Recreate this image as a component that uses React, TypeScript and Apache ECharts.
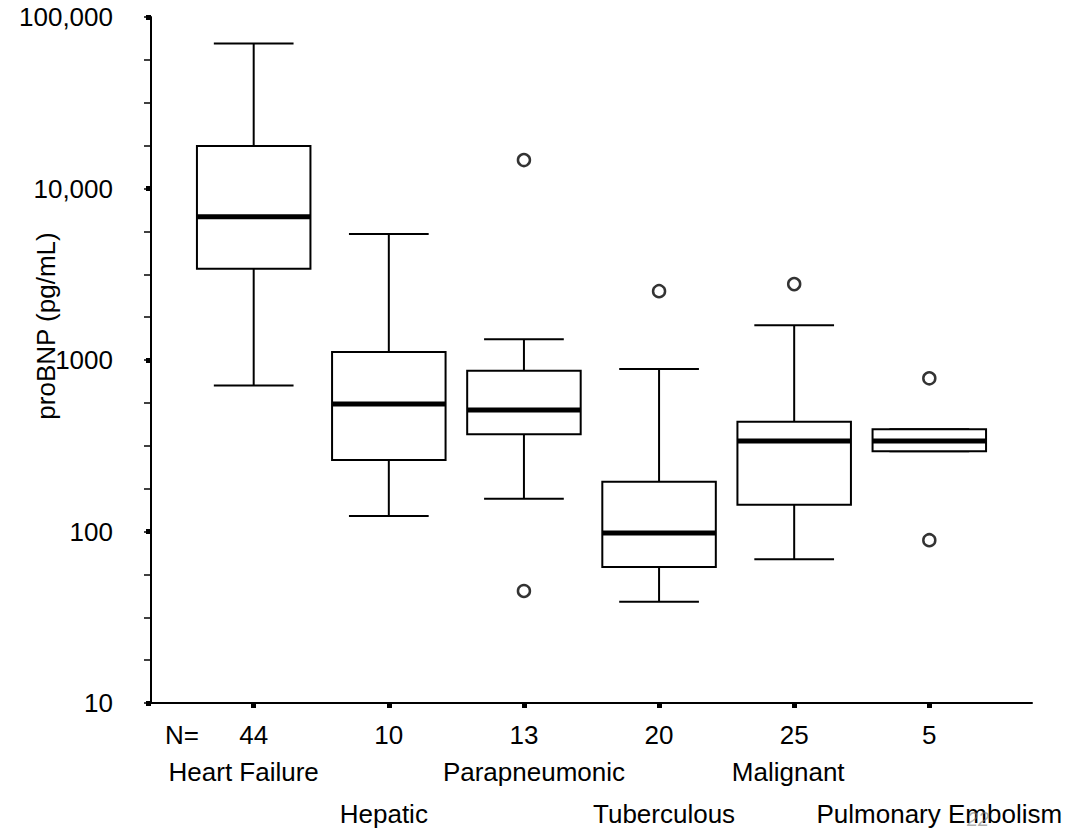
import React, { useEffect, useRef } from "react";
import * as echarts from "echarts";

// ---- Data ----
const categories = ["Heart Failure", "Hepatic", "Parapneumonic", "Tuberculous", "Malignant", "Pulmonary Embolism"];
const nValues = [44, 10, 13, 20, 25, 5];
const whiskerLow = [710, 123, 155, 39, 69, 294];
const q1 = [3400, 261, 369, 62, 143, 294];
const median = [6850, 553, 511, 98, 337, 337];
const q3 = [17700, 1115, 867, 195, 437, 394];
const whiskerHigh = [70000, 5430, 1321, 887, 1593, 394];
// outliers: [category index, value]
const outliers: [number, number][] = [
  [2, 14650],
  [2, 45],
  [3, 2520],
  [4, 2770],
  [5, 782],
  [5, 89],
];
const yTickLabels: Record<number, string> = {
  10: "10",
  100: "100",
  1000: "1000",
  10000: "10,000",
  100000: "100,000",
};
// horizontal nudge of each category name relative to its tick (px)
const nameShift = [-10, -5, 10, 5, -6, 10];

const FONT = "'Liberation Sans', Arial, Helvetica, sans-serif";
const FS = 26;

export default function App() {
  const ref = useRef<HTMLDivElement>(null);
  useEffect(() => {
    document.body.style.margin = "0";
    if (!ref.current) return;
    const chart = echarts.init(ref.current, undefined, { renderer: "svg" });

    const boxData = categories.map((_, i) => [
      i + 1,
      whiskerLow[i],
      q1[i],
      median[i],
      q3[i],
      whiskerHigh[i],
    ]);
    const outlierData = outliers.map(([i, v]) => [i + 1, v]);
    const xs = categories.map((_, i) => i + 1);
    const xsEven = xs.filter((_, i) => i % 2 === 0);
    const xsOdd = xs.filter((_, i) => i % 2 === 1);

    const BOX_HALF = 0.42;
    const CAP_HALF = 0.295;

    const rich: Record<string, any> = {
      n: { fontSize: FS, lineHeight: 36, fontFamily: FONT, color: "#000" },
      e: { fontSize: FS, lineHeight: 42, fontFamily: FONT, color: "#000" },
    };
    nameShift.forEach((s, i) => {
      rich["c" + i] = {
        fontSize: FS,
        lineHeight: 37,
        fontFamily: FONT,
        color: "#000",
        padding: s >= 0 ? [0, 0, 0, 2 * s] : [0, -2 * s, 0, 0],
      };
    });

    const labelFormatter = (v: number) => {
      const i = Math.round(v) - 1;
      if (i < 0 || i >= categories.length) return "";
      if (i % 2 === 0) return `{n|${nValues[i]}}\n{c${i}|${categories[i]}}`;
      return `{n|${nValues[i]}}\n{e| }\n{c${i}|${categories[i]}}`;
    };

    const makeX = (values: number[], primary: boolean) => ({
      type: "value",
      min: 0.24,
      max: 6.76,
      position: "bottom",
      offset: 0,
      splitLine: { show: false },
      axisLine: { show: primary, onZero: false, lineStyle: { color: "#000", width: 2 } },
      axisTick: {
        show: primary,
        customValues: xs,
        length: 5,
        lineStyle: { color: "#000", width: 5 },
      },
      axisLabel: {
        show: true,
        customValues: values,
        hideOverlap: false,
        showMinLabel: true,
        showMaxLabel: true,
        margin: 14,
        color: "#000",
        fontFamily: FONT,
        fontSize: FS,
        formatter: labelFormatter,
        rich,
      },
    });

    chart.setOption({
      animation: false,
      backgroundColor: "#fff",
      textStyle: { fontFamily: FONT, color: "#000" },
      grid: { left: 151, right: 47, top: 17, bottom: 127, containLabel: false },
      xAxis: [makeX(xsEven, true), makeX(xsOdd, false)],
      yAxis: [
        {
          type: "log",
          logBase: 10,
          min: 10,
          max: 100000,
          position: "left",
          splitLine: { show: false },
          minorTick: { show: false },
          axisLine: { show: true, onZero: false, lineStyle: { color: "#000", width: 2 } },
          axisTick: { show: true, length: 5, lineStyle: { color: "#000", width: 5 } },
          axisLabel: {
            margin: 38,
            hideOverlap: false,
            showMinLabel: true,
            showMaxLabel: true,
            color: "#000",
            fontFamily: FONT,
            fontSize: FS,
            formatter: (v: number) => yTickLabels[Math.round(v)] ?? "",
          },
        },
        {
          type: "value",
          min: 1,
          max: 5,
          interval: 0.25,
          position: "left",
          splitLine: { show: false },
          axisLine: { show: false },
          axisTick: { show: true, length: 7, lineStyle: { color: "#000", width: 1.5 } },
          axisLabel: { show: false },
        },
      ],
      graphic: [
        {
          type: "text",
          left: 165,
          top: 722,
          style: { text: "N=", font: `${FS}px ${FONT}`, fill: "#000" },
        },
        {
          type: "text",
          x: 46,
          y: 326,
          rotation: Math.PI / 2,
          style: {
            text: "proBNP (pg/mL)",
            font: `26px ${FONT}`,
            fill: "#000",
            align: "center",
            verticalAlign: "middle",
          },
        },
        {
          type: "text",
          x: 978,
          y: 819,
          z: 100,
          style: {
            text: "22",
            font: `italic 20px ${FONT}`,
            fill: "rgba(120,120,120,0.6)",
            align: "center",
            verticalAlign: "middle",
          },
        },
      ],
      series: [
        {
          type: "custom",
          xAxisIndex: 0,
          yAxisIndex: 0,
          data: boxData,
          renderItem: (params: any, api: any) => {
            const x = api.value(0);
            const lo = api.value(1);
            const b1 = api.value(2);
            const md = api.value(3);
            const b3 = api.value(4);
            const hi = api.value(5);
            const pLo = api.coord([x, lo]);
            const p1 = api.coord([x, b1]);
            const pM = api.coord([x, md]);
            const p3 = api.coord([x, b3]);
            const pHi = api.coord([x, hi]);
            const left = api.coord([x - BOX_HALF, md])[0];
            const right = api.coord([x + BOX_HALF, md])[0];
            const cl = api.coord([x - CAP_HALF, md])[0];
            const cr = api.coord([x + CAP_HALF, md])[0];
            const cx = pM[0];
            const line = { stroke: "#000", lineWidth: 2 };
            return {
              type: "group",
              children: [
                { type: "line", shape: { x1: cx, y1: p3[1], x2: cx, y2: pHi[1] }, style: line },
                { type: "line", shape: { x1: cl, y1: pHi[1], x2: cr, y2: pHi[1] }, style: line },
                { type: "line", shape: { x1: cx, y1: p1[1], x2: cx, y2: pLo[1] }, style: line },
                { type: "line", shape: { x1: cl, y1: pLo[1], x2: cr, y2: pLo[1] }, style: line },
                {
                  type: "rect",
                  shape: { x: left, y: p3[1], width: right - left, height: p1[1] - p3[1] },
                  style: { fill: "#fff", stroke: "#000", lineWidth: 2 },
                },
                {
                  type: "line",
                  shape: { x1: left, y1: pM[1], x2: right, y2: pM[1] },
                  style: { stroke: "#000", lineWidth: 5 },
                },
              ],
            };
          },
        },
        {
          type: "scatter",
          xAxisIndex: 0,
          yAxisIndex: 0,
          data: outlierData,
          symbol: "circle",
          symbolSize: 12,
          itemStyle: { color: "#fff", borderColor: "#000", borderWidth: 2.5 },
        },
      ],
    });
    return () => chart.dispose();
  }, []);
  return <div ref={ref} style={{ width: 1079, height: 830 }} />;
}
